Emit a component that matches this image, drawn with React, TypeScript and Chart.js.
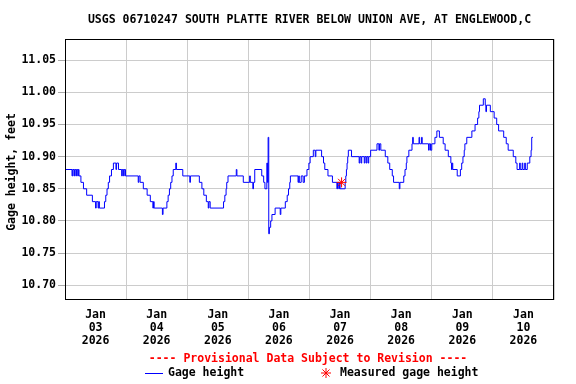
import React, { useEffect, useRef } from "react";
import { Chart, registerables } from "chart.js";

Chart.register(...registerables);

const TITLE = "USGS 06710247 SOUTH PLATTE RIVER BELOW UNION AVE, AT ENGLEWOOD,C";
const Y_TITLE = "Gage height, feet";
const PROVISIONAL = "---- Provisional Data Subject to Revision ----";
const SERIES_LABEL = "Gage height";
const MEASURED_LABEL = "Measured gage height";

// x axis: hours since Jan 03 2026 00:00
const dayLabels = ["03", "04", "05", "06", "07", "08", "09", "10"];
const yTicks = [10.7, 10.75, 10.8, 10.85, 10.9, 10.95, 11.0, 11.05];

const hours = [
  0, 2.75, 3, 3.5, 3.75, 4.25, 4.5, 5.0, 5.25, 5.5, 6.25, 7.25, 8.5, 10.75, 12.0, 12.25, 13.0, 13.25, 13.5,
  15.5, 16.0, 16.5, 17.0, 17.5, 18.25, 19.0, 20.0, 20.25, 21.0, 22.25, 22.5, 23.0, 23.25, 23.75,
  28.75, 29.0, 29.5, 30.75, 32.25, 33.5, 34.5, 34.75, 35.0, 38.25, 38.5, 40.0, 40.5, 41.0, 41.5, 42.0,
  42.5, 43.5, 43.75, 46.25, 49.0, 49.25, 52.75, 53.75, 54.5, 55.5, 56.25, 56.5, 57.0,
  62.25, 62.75, 63.25, 63.5, 64.0, 67.25, 67.5, 70.0, 72.5, 72.75, 73.75, 74.0, 74.5, 77.25, 78.0, 78.5,
  79.25, 79.5, 79.75, 80.0, 80.25, 80.75, 81.25, 82.5, 84.5, 84.75, 86.5, 87.25, 87.75, 88.25, 88.5,
  91.5, 91.75, 92.0, 92.75, 93.5, 94.0, 95.0, 95.75, 96.25, 97.5, 98.25, 98.5, 100.75, 101.5, 102.0,
  103.25, 105.0, 106.75, 107.0, 107.5, 107.75, 108.0, 110.0, 110.25, 110.5, 110.75, 111.0, 111.25,
  112.5, 115.5, 115.75, 116.25, 116.5, 117.5, 117.75, 118.25, 118.5, 119.0, 119.25, 120.0, 122.5,
  123.25, 123.5, 124.0, 125.75, 126.75, 127.5, 128.5, 129.0, 131.25, 131.5, 133.0, 133.5, 134.0,
  134.25, 135.0, 136.25, 136.5, 136.75, 139.0, 139.25, 140.0, 140.25, 142.75, 143.0, 143.5, 144.0,
  145.25, 146.0, 147.0, 148.5, 149.25, 150.5, 151.5, 151.75, 152.0, 152.25, 154.0, 155.25, 155.75,
  156.25, 156.75, 157.0, 157.75, 159.75, 161.0, 162.0, 162.5, 162.75, 164.25, 165.0, 165.25, 165.5,
  167.0, 168.5, 169.5, 170.25, 172.25, 173.25, 174.0, 176.0, 177.0, 177.5, 178.5, 178.75, 179.5,
  179.75, 180.5, 180.75, 181.5, 182.5, 183.0, 183.25, 183.75,
];

const gage = [
  10.88, 10.87, 10.88, 10.87, 10.88, 10.87, 10.88, 10.87, 10.88, 10.87, 10.86, 10.85, 10.84, 10.83, 10.82, 10.83, 10.82, 10.83, 10.82,
  10.83, 10.84, 10.85, 10.86, 10.87, 10.88, 10.89, 10.88, 10.89, 10.88, 10.87, 10.88, 10.87, 10.88, 10.87,
  10.86, 10.87, 10.86, 10.85, 10.84, 10.83, 10.82, 10.83, 10.82, 10.81, 10.82, 10.83, 10.84, 10.85, 10.86, 10.87,
  10.88, 10.89, 10.88, 10.87, 10.86, 10.87, 10.86, 10.85, 10.84, 10.83, 10.82, 10.83, 10.82,
  10.83, 10.84, 10.85, 10.86, 10.87, 10.88, 10.87, 10.86, 10.87, 10.86, 10.85, 10.86, 10.88, 10.87, 10.86, 10.85,
  10.89, 10.86, 10.93, 10.78, 10.79, 10.8, 10.81, 10.82, 10.81, 10.82, 10.83, 10.84, 10.85, 10.86, 10.87,
  10.86, 10.87, 10.86, 10.87, 10.86, 10.87, 10.88, 10.89, 10.9, 10.91, 10.9, 10.91, 10.9, 10.89, 10.88,
  10.87, 10.86, 10.85, 10.86, 10.85, 10.86, 10.85, 10.86, 10.87, 10.88, 10.89, 10.9, 10.91,
  10.9, 10.89, 10.9, 10.89, 10.9, 10.89, 10.9, 10.89, 10.9, 10.89, 10.9, 10.91, 10.92,
  10.91, 10.92, 10.91, 10.9, 10.89, 10.88, 10.87, 10.86, 10.85, 10.86, 10.87, 10.88, 10.89,
  10.9, 10.91, 10.92, 10.93, 10.92, 10.93, 10.92, 10.93, 10.92, 10.91, 10.92, 10.91, 10.92,
  10.93, 10.94, 10.93, 10.92, 10.91, 10.9, 10.89, 10.88, 10.89, 10.88, 10.87, 10.88, 10.89,
  10.9, 10.91, 10.92, 10.93, 10.94, 10.95, 10.96, 10.97, 10.98, 10.99, 10.98, 10.97, 10.98,
  10.97, 10.96, 10.95, 10.94, 10.93, 10.92, 10.91, 10.9, 10.89, 10.88, 10.89, 10.88, 10.89,
  10.88, 10.89, 10.88, 10.89, 10.9, 10.91, 10.93, 10.93,
];

const measuredHours = [108.6];
const measuredValues = [10.86];

const FONT = "'DejaVu Sans Mono', monospace";

const decorPlugin = {
  id: "decor",
  afterDraw(chart: any) {
    const { ctx, chartArea } = chart;
    const { left, right, top, bottom } = chartArea;
    ctx.save();
    // frame
    ctx.strokeStyle = "#000000";
    ctx.lineWidth = 1;
    ctx.strokeRect(Math.round(left) + 0.5, Math.round(top) + 0.5, Math.round(right - left) - 1, Math.round(bottom - top) - 1);
    // title
    ctx.fillStyle = "#000000";
    ctx.font = `bold 11.5px ${FONT}`;
    ctx.textAlign = "center";
    ctx.textBaseline = "middle";
    ctx.fillText(TITLE, (left + right) / 2, 20);
    // y title
    ctx.save();
    ctx.translate(12, 172);
    ctx.rotate(-Math.PI / 2);
    ctx.fillText(Y_TITLE, 0, 0);
    ctx.restore();
    // provisional
    ctx.fillStyle = "#ff0000";
    ctx.fillText(PROVISIONAL, 308, 359);
    // legend row
    const ly = 373;
    ctx.strokeStyle = "#0000ff";
    ctx.beginPath();
    ctx.moveTo(145, ly + 0.5);
    ctx.lineTo(163, ly + 0.5);
    ctx.stroke();
    ctx.fillStyle = "#000000";
    ctx.textAlign = "left";
    ctx.fillText(SERIES_LABEL, 168, ly);
    // asterisk
    const ax = 326, r = 5;
    ctx.strokeStyle = "#ff0000";
    ctx.beginPath();
    ctx.moveTo(ax - r, ly); ctx.lineTo(ax + r, ly);
    ctx.moveTo(ax, ly - r); ctx.lineTo(ax, ly + r);
    const d = r * 0.7071;
    ctx.moveTo(ax - d, ly - d); ctx.lineTo(ax + d, ly + d);
    ctx.moveTo(ax - d, ly + d); ctx.lineTo(ax + d, ly - d);
    ctx.stroke();
    ctx.fillText(MEASURED_LABEL, 340, ly);
    ctx.restore();
  },
};

export default function App() {
  const ref = useRef<HTMLCanvasElement | null>(null);

  useEffect(() => {
    if (!ref.current) return;
    const lineData = hours.map((h, i) => ({ x: h, y: gage[i] }));
    const measData = measuredHours.map((h, i) => ({ x: h, y: measuredValues[i] }));
    const chart = new Chart(ref.current, {
      type: "line",
      data: {
        datasets: [
          {
            label: SERIES_LABEL,
            data: lineData,
            borderColor: "#0000ff",
            borderWidth: 1,
            pointRadius: 0,
            stepped: true,
            fill: false,
            order: 2,
          },
          {
            label: MEASURED_LABEL,
            data: measData,
            showLine: false,
            pointStyle: "star",
            pointRadius: 5,
            borderColor: "#ff0000",
            backgroundColor: "#ff0000",
            pointBorderWidth: 1,
            order: 1,
          },
        ],
      },
      options: {
        responsive: false,
        animation: false,
        devicePixelRatio: 1,
        layout: { padding: { top: 39, right: 22, left: 0, bottom: 0 } },
        plugins: {
          legend: { display: false },
          title: { display: false },
          tooltip: { enabled: false },
        },
        scales: {
          x: {
            type: "linear",
            min: 0,
            max: 192,
            afterFit: (s: any) => { s.height = 84; },
            afterBuildTicks: (s: any) => {
              const t = [];
              for (let v = 0; v <= 192; v += 12) t.push({ value: v });
              s.ticks = t;
            },
            grid: {
              color: (c: any) => (c.tick && c.tick.value % 24 === 0 ? "#cccccc" : "rgba(0,0,0,0)"),
              lineWidth: 1,
              drawTicks: false,
            },
            border: { display: false },
            ticks: {
              autoSkip: false,
              maxRotation: 0,
              padding: 8,
              color: "#000000",
              font: { family: FONT, size: 11.5, weight: "bold", lineHeight: 1.15 },
              callback: (value: any) => {
                const v = Number(value);
                if (v % 24 === 12) {
                  const idx = Math.floor(v / 24);
                  return ["Jan", dayLabels[idx], "2026"];
                }
                return "";
              },
            },
          },
          y: {
            type: "linear",
            min: 10.677,
            max: 11.083,
            afterFit: (s: any) => { s.width = 65; },
            afterBuildTicks: (s: any) => {
              s.ticks = yTicks.map((v) => ({ value: v }));
            },
            grid: {
              color: "#cccccc",
              lineWidth: 1,
              drawTicks: true,
              tickLength: 7,
              tickColor: "#aaaaaa",
            },
            border: { display: false },
            ticks: {
              padding: 2,
              color: "#000000",
              font: { family: FONT, size: 11.5, weight: "bold" },
              callback: (value: any) => Number(value).toFixed(2),
            },
          },
        },
      },
      plugins: [decorPlugin],
    } as any);
    return () => chart.destroy();
  }, []);

  return (
    <div style={{ position: "fixed", left: 0, top: 0, width: 576, height: 384, background: "#ffffff" }}>
      <canvas ref={ref} width={576} height={384} style={{ width: 576, height: 384 }} />
    </div>
  );
}
